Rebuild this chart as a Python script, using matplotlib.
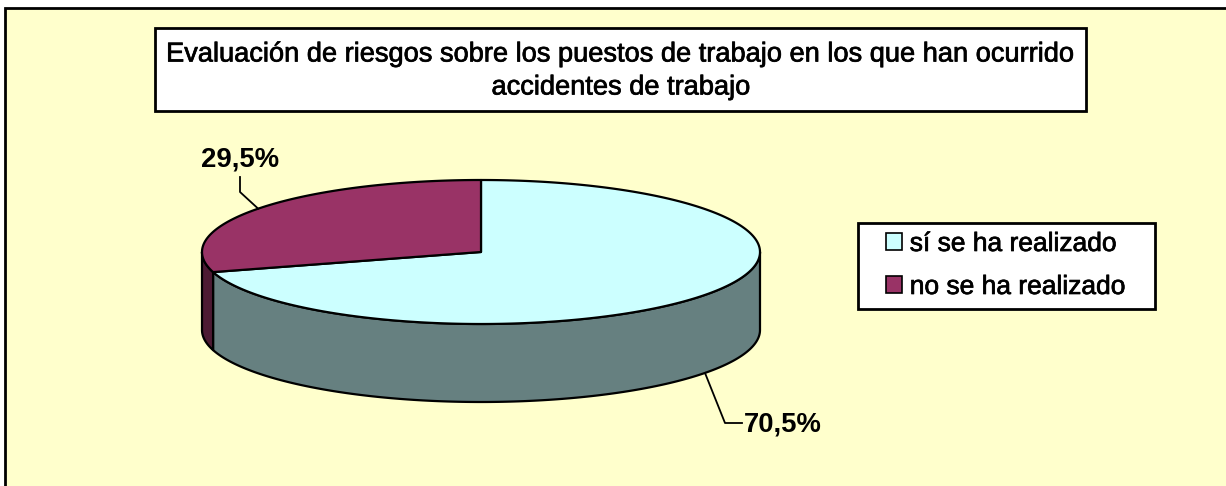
import numpy as np
import matplotlib.pyplot as plt
import matplotlib.patheffects as pe
from matplotlib.patches import Polygon, Rectangle, Patch

plt.rcParams['font.family'] = ['Liberation Sans', 'DejaVu Sans']

title = 'Evaluación de riesgos sobre los puestos de trabajo en los que han ocurrido\naccidentes de trabajo'
labels = ['sí se ha realizado', 'no se ha realizado']
values = [70.5, 29.5]
top_colors = ['#CCFFFF', '#993366']
side_colors = ['#668080', '#4D1A33']

fig = plt.figure(figsize=(12.26, 4.86), dpi=100)
ax = fig.add_axes([0, 0, 1, 1])
ax.set_xlim(0, 1226)
ax.set_ylim(486, 0)
ax.axis('off')

# chart area
ax.add_patch(Rectangle((5, 8), 1240, 500, facecolor='#FFFFCC', edgecolor='black', lw=2))

# pie geometry (pixels)
cx, cy, rx, ry, depth = 481, 252, 279, 72, 78


def pt(theta, dy=0):
    t = np.radians(theta)
    return cx + rx * np.cos(t), cy - ry * np.sin(t) + dy


# purple slice starts at 12 o'clock going counterclockwise, cyan takes the rest
fracs = np.array(values) / sum(values)
start = 90 + fracs[1] * 360  # boundary between slices (196.2 deg)
spans = [(start, 450), (90, start)]  # cyan, purple

# side walls (front half: 180..360)
for (a, b), col in zip(spans, side_colors):
    lo, hi = max(a, 180), min(b, 360)
    if hi <= lo:
        continue
    th = np.linspace(lo, hi, 200)
    top = [pt(t) for t in th]
    bot = [pt(t, depth) for t in th[::-1]]
    ax.add_patch(Polygon(top + bot, closed=True, facecolor=col, edgecolor='black', lw=1.6, joinstyle='round'))

# top faces
for (a, b), col in zip(spans, top_colors):
    th = np.linspace(a, b, 300)
    verts = [(cx, cy)] + [pt(t) for t in th]
    ax.add_patch(Polygon(verts, closed=True, facecolor=col, edgecolor='black', lw=1.6, joinstyle='round'))

thick = [pe.withStroke(linewidth=0.5, foreground='black')]

# data labels with leader lines
lbl_kw = dict(fontsize=19.8, fontweight='bold', color='black')
x0, y0 = pt(143)
ax.plot([x0, 240, 240], [y0, 192, 177], color='black', lw=1.3)
ax.text(240, 159, f'{values[1]:.1f}%'.replace('.', ','), ha='center', va='center', **lbl_kw)

x1, y1 = pt(323.4, depth)
ax.plot([x1, 725, 742], [y1, 423, 423], color='black', lw=1.3)
ax.text(744, 424, f'{values[0]:.1f}%'.replace('.', ','), ha='left', va='center', **lbl_kw)

# title box
ax.add_patch(Rectangle((155, 28), 931, 83, facecolor='white', edgecolor='black', lw=2))
ax.text(621, 71, title, ha='center', va='center', fontsize=19.6, linespacing=1.35,
        path_effects=thick)

# legend (frame drawn separately for the wider left padding)
ax.add_patch(Rectangle((858, 223), 297, 86, facecolor='white', edgecolor='black', lw=2))
handles = [Patch(facecolor=c, edgecolor='black', lw=1.2) for c in top_colors]
leg = ax.legend(handles, labels, loc='upper left', bbox_to_anchor=(886, 232),
                bbox_transform=ax.transData, fontsize=19, frameon=False,
                handlelength=0.6, handleheight=0.6, handletextpad=0.3,
                labelspacing=0.72, borderpad=0, borderaxespad=0)
for t in leg.get_texts():
    t.set_path_effects(thick)

fig.savefig('out.png', dpi=100, facecolor='white')
